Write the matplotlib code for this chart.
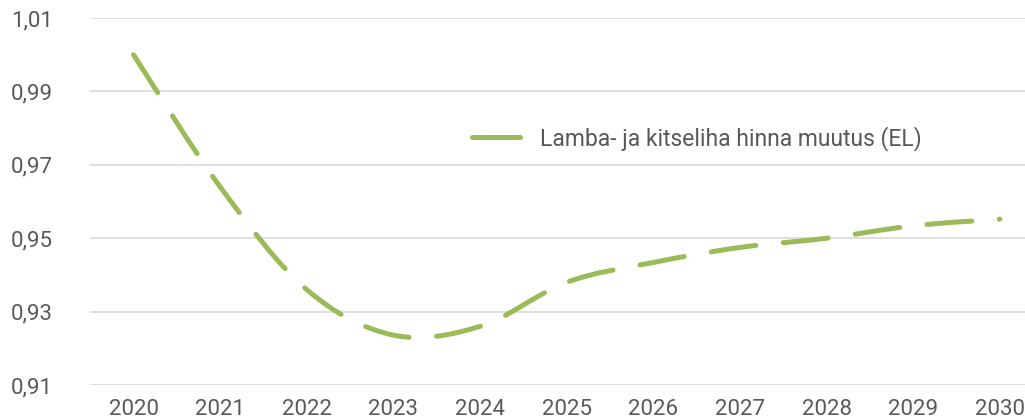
import matplotlib
matplotlib.use("Agg")
import matplotlib.pyplot as plt
from matplotlib.path import Path
from matplotlib.patches import PathPatch
from matplotlib.lines import Line2D
import numpy as np

# data
years = [2020, 2021, 2022, 2023, 2024, 2025, 2026, 2027, 2028, 2029, 2030]
price_change = [1.000, 0.964, 0.936, 0.9236, 0.926, 0.938, 0.9434, 0.9475, 0.950, 0.9534, 0.9552]
y_ticks = [0.91, 0.93, 0.95, 0.97, 0.99, 1.01]
series_label = "Lamba- ja kitseliha hinna muutus (EL)"

green = "#9BBB59"
grey_text = "#595959"
grid_col = "#D9D9D9"

plt.rcParams['font.family'] = ['Roboto', 'DejaVu Sans']

fig = plt.figure(figsize=(10.25, 4.19), dpi=100)
ax = fig.add_axes([0.088, 0.081, 0.912, 0.876])

# smoothed line like the spreadsheet one (bezier through the data points)
pts = np.column_stack([years, price_change]).astype(float)
verts = [pts[0]]
codes = [Path.MOVETO]
n = len(pts)
for i in range(n - 1):
    p0 = pts[i - 1] if i > 0 else pts[i]
    p1 = pts[i]
    p2 = pts[i + 1]
    p3 = pts[i + 2] if i + 2 < n else pts[i + 1]
    c1 = p1 + (p2 - p0) / 6.0
    c2 = p2 - (p3 - p1) / 6.0
    verts += [c1, c2, p2]
    codes += [Path.CURVE4] * 3
curve = PathPatch(Path(verts, codes), facecolor="none", edgecolor=green,
                  lw=3.6, linestyle=(0, (9, 5.5)), capstyle="round", zorder=3)
ax.add_patch(curve)

ax.set_xlim(2019.5, 2030.29)
ax.set_ylim(0.91, 1.01)
ax.set_xticks(years)
ax.set_xticklabels([str(y) for y in years])
ax.set_yticks(y_ticks)
ax.set_yticklabels([f"{v:.2f}".replace(".", ",") for v in y_ticks])

ax.grid(axis="y", color=grid_col, lw=1.2)
ax.set_axisbelow(True)
for s in ax.spines.values():
    s.set_visible(False)
ax.tick_params(length=0, labelsize=16, colors=grey_text)
ax.tick_params(axis="y", pad=27)
ax.tick_params(axis="x", pad=10)

handle = Line2D([], [], color=green, lw=3.6, solid_capstyle="round")
ax.legend(handles=[handle], labels=[series_label], loc="center left",
          bbox_to_anchor=(0.4086, 0.673), frameon=False, fontsize=16.5,
          labelcolor=grey_text, borderpad=0, borderaxespad=0,
          handlelength=2.1, handletextpad=0.85)

fig.savefig("out.png", dpi=100)
